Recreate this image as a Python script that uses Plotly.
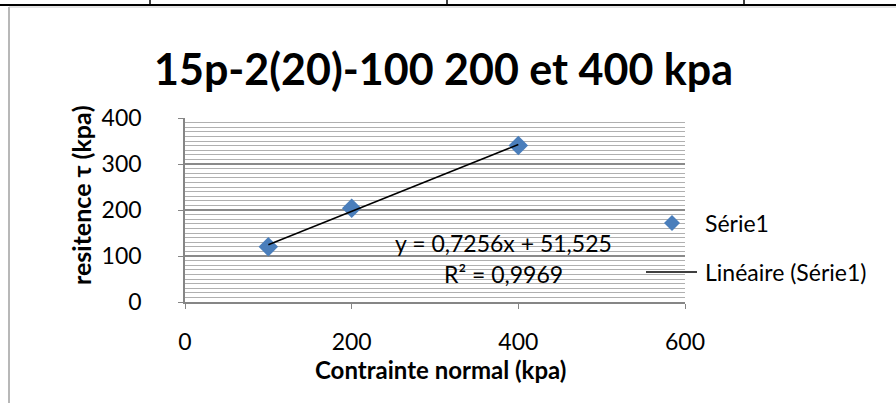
import numpy as np
import plotly.graph_objects as go

# Data
x_vals = [100, 200, 400]
y_vals = [120, 204, 340]
series_name = "Série1"
trend_name = "Linéaire (Série1)"
title_text = "15p-2(20)-100 200 et 400 kpa"
x_title = "Contrainte normal (kpa)"
y_title = "resitence τ (kpa)"
eq_text = "y = 0,7256x + 51,525"
r2_text = "R² = 0,9969"
x_ticks = [0, 200, 400, 600]
y_ticks = [0, 100, 200, 300, 400]

W, H = 896, 403
FONT = "Lato"

def px(x):
    return x / W

def py(y):
    return 1 - y / H

slope, intercept = np.polyfit(x_vals, y_vals, 1)
tx = [min(x_vals), max(x_vals)]
ty = [slope * v + intercept for v in tx]

fig = go.Figure()
fig.add_trace(go.Scatter(
    x=x_vals, y=y_vals, mode="markers", name=series_name,
    marker=dict(symbol="diamond", size=15, color="#4a7ebb",
                line=dict(width=0)),
    showlegend=False, cliponaxis=False))
fig.add_trace(go.Scatter(
    x=tx, y=ty, mode="lines", name=trend_name,
    line=dict(color="black", width=1.5), showlegend=False))

fig.update_layout(
    width=W, height=H,
    margin=dict(l=0, r=0, t=0, b=0, pad=0, autoexpand=False),
    paper_bgcolor="white", plot_bgcolor="white",
    font=dict(family=FONT, color="black"),
    xaxis=dict(domain=[px(185), px(685)], range=[0, 600],
               tickvals=x_ticks, ticks="outside", ticklen=5,
               tickcolor="#868686", showline=True, linecolor="#868686",
               linewidth=1.5, showgrid=False, zeroline=False,
               tickfont=dict(size=23, family=FONT),
               ticklabelstandoff=14),
    yaxis=dict(domain=[py(302), py(118)], range=[0, 400],
               tickvals=y_ticks, ticks="outside", ticklen=5,
               tickcolor="#868686", showline=True, linecolor="#868686",
               linewidth=1.5, showgrid=True, gridcolor="#8a8a8a",
               gridwidth=1.5, zeroline=False,
               minor=dict(dtick=10, showgrid=True, gridcolor="#b0b0b0",
                          gridwidth=1.3, ticks=""),
               tickfont=dict(size=23, family=FONT),
               ticksuffix="\u2009",
               ticklabelstandoff=32),
)

ann = []
ann.append(dict(x=px(443), y=py(68), xref="paper", yref="paper",
                text="<b>" + title_text + "</b>", showarrow=False,
                font=dict(size=43, family=FONT), xanchor="center",
                yanchor="middle"))
ann.append(dict(x=px(440), y=py(369), xref="paper", yref="paper",
                text="<b>" + x_title + "</b>", showarrow=False,
                font=dict(size=24, family=FONT), xanchor="center",
                yanchor="middle"))
ann.append(dict(x=px(81), y=py(195), xref="paper", yref="paper",
                text="<b>" + y_title + "</b>", showarrow=False,
                textangle=-90,
                font=dict(size=25, family=FONT), xanchor="center",
                yanchor="middle"))
ann.append(dict(x=px(614), y=py(243), xref="paper", yref="paper",
                text=eq_text, showarrow=False,
                font=dict(size=23, family=FONT), xanchor="right",
                yanchor="middle"))
ann.append(dict(x=px(565), y=py(274), xref="paper", yref="paper",
                text=r2_text, showarrow=False,
                font=dict(size=23, family=FONT), xanchor="right",
                yanchor="middle"))
ann.append(dict(x=px(703), y=py(223), xref="paper", yref="paper",
                text=series_name, showarrow=False,
                font=dict(size=23, family=FONT), xanchor="left",
                yanchor="middle"))
ann.append(dict(x=px(703), y=py(272), xref="paper", yref="paper",
                text=trend_name, showarrow=False,
                font=dict(size=23, family=FONT), xanchor="left",
                yanchor="middle"))
fig.update_layout(annotations=ann)

shapes = []
# legend diamond marker
shapes.append(dict(type="path", xref="paper", yref="paper",
                   path="M {} {} L {} {} L {} {} L {} {} Z".format(
                       px(672), py(215), px(680), py(223),
                       px(672), py(231), px(664), py(223)),
                   fillcolor="#4a7ebb", line=dict(width=0)))
# legend line
shapes.append(dict(type="line", xref="paper", yref="paper",
                   x0=px(646), x1=px(697), y0=py(272), y1=py(272),
                   line=dict(color="black", width=1.5)))
# table border at top
shapes.append(dict(type="line", xref="paper", yref="paper",
                   x0=0, x1=1, y0=py(5), y1=py(5),
                   line=dict(color="black", width=2)))
for vx in [150, 447, 744]:
    shapes.append(dict(type="line", xref="paper", yref="paper",
                       x0=px(vx), x1=px(vx), y0=py(0), y1=py(5),
                       line=dict(color="black", width=1.5)))
# chart frame (left and top)
shapes.append(dict(type="line", xref="paper", yref="paper",
                   x0=px(9), x1=px(9), y0=py(7), y1=0,
                   line=dict(color="#a0a0a0", width=1.5)))
shapes.append(dict(type="line", xref="paper", yref="paper",
                   x0=px(9), x1=1, y0=py(7), y1=py(7),
                   line=dict(color="#c8c8c8", width=1)))
fig.update_layout(shapes=shapes)

fig.write_html("out.html")
